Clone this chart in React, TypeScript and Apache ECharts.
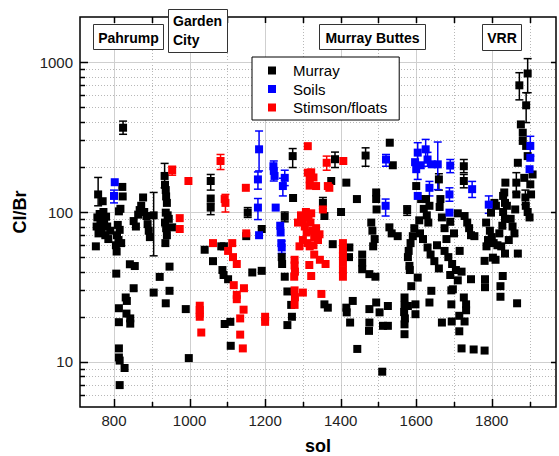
import React, { useEffect, useRef } from 'react';
import * as echarts from 'echarts';

const X_MIN = 710;
const X_MAX = 1970;
const Y_MIN = 5;
const Y_MAX = 2000;

const xMajorTicks = [800, 1000, 1200, 1400, 1600, 1800];
const xMinorTicks = [900, 1100, 1300, 1500, 1700, 1900];
const yMajorTicks = [10, 100, 1000];
const yMinorTicks = [6, 7, 8, 9, 20, 30, 40, 50, 60, 70, 80, 90, 200, 300, 400, 500, 600, 700, 800, 900];

const seriesNames = ['Murray', 'Soils', 'Stimson/floats'];

// [sol, Cl/Br]
const murray = [
  [752, 59], [754, 80], [756, 92], [758, 131], [759, 72], [762, 97], [764, 85], [767, 76], [770, 118], [772, 100],
  [774, 88], [777, 70], [779, 93], [782, 80], [785, 66], [790, 75],
  [805, 60], [807, 54.5], [808, 70], [810, 82], [812, 65], [813, 101], [815, 76], [817, 105], [819, 62], [822, 147],
  [823, 127], [824, 365], [806, 38.8], [813, 22.8], [813, 18.4], [813, 12.3], [813, 10.7], [815, 10.2], [828, 9.1],
  [815, 7.0], [831, 26.9], [834, 25.5], [833, 21], [843, 19.5], [843, 18], [842, 44.8], [855, 43.6], [852, 31],
  [852, 87], [858, 80], [864, 96], [868, 103], [872, 110], [877, 125], [880, 100], [886, 94], [889, 83], [892, 75],
  [895, 68], [905, 95], [905, 29], [921, 36.9], [934, 174], [935, 152], [937, 140], [938, 127], [940, 115], [937, 99],
  [942, 95], [945, 90], [935, 85], [938, 78], [940, 70], [936, 62], [947, 43.2], [947, 29.8], [937, 24.6], [954, 79],
  [990, 22.5], [998, 10.6],
  [1040, 56], [1056, 161], [1056, 123], [1056, 107], [1062, 47], [1084, 59], [1087, 41], [1090, 38], [1091, 59],
  [1102, 35.6], [1093, 17.9], [1108, 18.5], [1109, 12.8], [1154, 99], [1150, 69], [1166, 39.5], [1191, 40.5], [1191, 77],
  [1244, 50], [1245, 45], [1252, 93], [1252, 37], [1259, 29.5], [1269, 24], [1271, 20], [1259, 17.6], [1273, 236], [1274, 124],
  [1353, 115], [1357, 94], [1357, 24.2], [1366, 23], [1375, 161], [1379, 61], [1385, 225], [1401, 100], [1415, 157],
  [1422, 50], [1423, 58], [1432, 25.5], [1415, 23], [1416, 21.4], [1425, 18.3], [1444, 12.2], [1443, 122], [1457, 52],
  [1457, 46], [1457, 41.5], [1466, 238], [1476, 38.5], [1492, 37], [1486, 59], [1481, 85], [1484, 75], [1490, 66],
  [1494, 135], [1494, 122], [1495, 104], [1476, 22.5], [1494, 24.9], [1503, 21.4], [1525, 23.6], [1476, 18.3],
  [1475, 16.1], [1512, 17.4], [1525, 17.4], [1510, 8.6], [1530, 290], [1538, 205], [1529, 79], [1535, 72], [1551, 69],
  [1576, 103], [1578, 50], [1580, 55], [1582, 43.7], [1583, 41], [1587, 32], [1569, 26.9], [1569, 24], [1568, 21.5],
  [1570, 19.5], [1569, 17.8], [1569, 15.3], [1578, 23.6], [1598, 24.2], [1598, 20.8], [1604, 36.5], [1600, 149],
  [1591, 69], [1585, 62], [1595, 78], [1608, 88], [1613, 122], [1620, 105], [1626, 122], [1628, 95], [1632, 85],
  [1635, 110], [1610, 72], [1618, 66],
  [1660, 165], [1664, 122], [1662, 108], [1668, 92], [1675, 78], [1680, 66], [1690, 86], [1700, 72], [1710, 98],
  [1726, 202], [1726, 161], [1728, 94], [1735, 85], [1740, 78], [1745, 70], [1754, 69], [1640, 29.8], [1635, 24.9],
  [1693, 30], [1697, 30.5], [1693, 24.2], [1726, 26.9], [1732, 24.2], [1732, 22.1], [1714, 20.3], [1668, 18.3],
  [1694, 18.6], [1728, 18.6], [1714, 16], [1720, 12.3], [1752, 12.1], [1781, 11.9], [1745, 35.6], [1630, 58],
  [1638, 52], [1648, 47], [1655, 60], [1675, 55], [1685, 50], [1695, 45], [1705, 41], [1715, 55], [1720, 40],
  [1660, 42], [1690, 38], [1710, 35],
  [1782, 35.6], [1782, 31.5], [1785, 85], [1798, 99], [1807, 115], [1811, 110], [1836, 157], [1833, 135], [1830, 128],
  [1835, 115], [1830, 100], [1835, 90], [1828, 81], [1795, 75], [1800, 68], [1805, 62], [1815, 60], [1790, 65],
  [1781, 47.2], [1803, 49.6], [1810, 48], [1835, 52.8], [1869, 52.8], [1786, 59], [1825, 59], [1823, 32], [1823, 27.2],
  [1829, 37.4], [1867, 24.6], [1865, 157], [1869, 213], [1865, 131], [1873, 700], [1895, 840], [1891, 515], [1877, 384],
  [1882, 338], [1882, 298], [1891, 276], [1895, 236], [1886, 169], [1908, 178], [1902, 153], [1904, 131], [1889, 125],
  [1890, 110], [1895, 100], [1900, 92], [1850, 90], [1855, 80], [1860, 72], [1862, 104], [1845, 65], [1820, 72], [1840, 110],
];

// [sol, low, high]
const murrayErrors = [
  [758, 110, 170], [824, 330, 404], [905, 51, 135], [934, 145, 211], [1056, 140, 178], [1056, 96, 114],
  [1154, 92, 107], [1252, 86, 100], [1273, 198, 265], [1353, 105, 125], [1385, 198, 251], [1466, 202, 268],
  [1576, 95, 110], [1660, 140, 180], [1726, 183, 224], [1726, 145, 178], [1865, 135, 183], [1873, 560, 850],
  [1895, 625, 1055], [1891, 395, 625], [1889, 112, 140],
];

const soils = [
  [802, 158], [800, 128], [1184, 262], [1181, 165], [1181, 107], [1184, 70], [1222, 202], [1223, 188], [1225, 174],
  [1228, 107], [1252, 169], [1247, 149], [1240, 81], [1241, 73], [1243, 62], [1244, 58], [1520, 224], [1519, 110],
  [1604, 249], [1625, 262], [1630, 224], [1600, 193], [1597, 215], [1612, 205], [1604, 128], [1641, 208], [1657, 208],
  [1635, 145], [1690, 204], [1688, 131], [1688, 99], [1748, 142], [1792, 112], [1902, 276], [1902, 230], [1900, 193],
];

const soilsErrors = [
  [800, 115, 140], [1184, 188, 347], [1181, 142, 185], [1181, 89, 123], [1223, 161, 219], [1252, 150, 190],
  [1247, 128, 168], [1244, 53, 64], [1520, 202, 242], [1519, 94, 122], [1604, 165, 290], [1625, 213, 305],
  [1630, 202, 250], [1657, 141, 293], [1635, 128, 160], [1690, 183, 224], [1688, 118, 145], [1748, 125, 160],
  [1792, 98, 128], [1902, 236, 320],
];

const stimson = [
  [954, 190], [997, 161], [974, 91], [974, 77], [1082, 219], [1095, 115], [1093, 122], [1149, 145], [1062, 62],
  [1113, 62], [1150, 72], [1102, 55], [1115, 50], [1125, 45], [1117, 32.5], [1144, 31], [1125, 28], [1125, 26.2],
  [1027, 23.7], [1027, 22.2], [1027, 21], [1027, 20], [1143, 22.3], [1134, 19.5], [1200, 20], [1200, 18.5],
  [1031, 15.7], [1134, 15.2], [1141, 12.3],
  [1287, 85], [1313, 275], [1313, 183], [1318, 165], [1318, 150], [1295, 95], [1300, 88], [1305, 80], [1310, 73],
  [1315, 92], [1320, 85], [1325, 75], [1330, 68], [1335, 78], [1340, 65], [1300, 65], [1312, 62], [1322, 98],
  [1308, 100], [1328, 60], [1291, 59], [1318, 59], [1278, 48], [1278, 44], [1279, 40], [1277, 37], [1278, 30],
  [1279, 27], [1278, 24], [1300, 29], [1317, 44.3], [1322, 37.4], [1330, 52], [1345, 48], [1360, 45], [1349, 28.4],
  [1363, 213], [1366, 149], [1370, 145], [1407, 219], [1322, 184], [1328, 170], [1335, 149], [1353, 104], [1344, 71],
  [1406, 62], [1406, 56], [1406, 51], [1406, 46], [1406, 41], [1406, 37],
];

const stimsonErrors = [
  [954, 176, 202], [1082, 192, 242], [1095, 100, 131], [1363, 190, 236],
];

const annotations = [
  { lines: ['Pahrump'], box: [93.5, 24.5, 70, 25] },
  { lines: ['Garden', 'City'], box: [168.5, 9.5, 59, 43] },
  { lines: ['Murray Buttes'], box: [319.5, 24.5, 106, 25] },
  { lines: ['VRR'], box: [482.5, 24.5, 39, 26] },
];

const FONT = '"Liberation Sans", Arial, Helvetica, sans-serif';

function errorSeries(name: string, data: number[][], color: string) {
  return {
    type: 'custom',
    name,
    data,
    z: 3,
    silent: true,
    encode: { x: 0, y: [1, 2] },
    renderItem: (params: any, api: any) => {
      const x = api.value(0);
      const pLo = api.coord([x, api.value(1)]);
      const pHi = api.coord([x, api.value(2)]);
      const hw = 4;
      const st = { stroke: color, lineWidth: 1.5 };
      return {
        type: 'group',
        children: [
          { type: 'line', shape: { x1: pLo[0], y1: pLo[1], x2: pHi[0], y2: pHi[1] }, style: st },
          { type: 'line', shape: { x1: pLo[0] - hw, y1: pLo[1], x2: pLo[0] + hw, y2: pLo[1] }, style: st },
          { type: 'line', shape: { x1: pHi[0] - hw, y1: pHi[1], x2: pHi[0] + hw, y2: pHi[1] }, style: st },
        ],
      };
    },
  };
}

const gridData = [
  ...xMajorTicks.map((v) => [v, Y_MIN, 0]),
  ...xMinorTicks.map((v) => [v, Y_MIN, 1]),
  ...yMajorTicks.map((v) => [X_MIN, v, 2]),
  ...yMinorTicks.map((v) => [X_MIN, v, 3]),
];

function scatterSeries(name: string, data: number[][], color: string) {
  return {
    type: 'scatter',
    name,
    data,
    symbol: 'rect',
    symbolSize: 8,
    itemStyle: { color, opacity: 1 },
    emphasis: { disabled: true },
    z: 4,
  };
}

function buildOption() {
  const graphics: any[] = [];
  annotations.forEach((a) => {
    const [x, y, w, h] = a.box;
    graphics.push({
      type: 'rect',
      shape: { x, y, width: w, height: h },
      style: { fill: '#ffffff', stroke: '#333333', lineWidth: 1 },
      z: 100,
    });
    if (a.lines.length === 1) {
      graphics.push({
        type: 'text',
        x: x + w / 2,
        y: y + h / 2 + 0.5,
        z: 101,
        style: {
          text: a.lines[0],
          font: `bold 14px ${FONT}`,
          fill: '#000',
          align: 'center',
          verticalAlign: 'middle',
          textAlign: 'center',
          textVerticalAlign: 'middle',
        },
      });
    } else {
      a.lines.forEach((line, i) => {
        graphics.push({
          type: 'text',
          x: x + 4.5,
          y: y + 11.5 + i * 19,
          z: 101,
          style: {
            text: line,
            font: `bold 14px ${FONT}`,
            fill: '#000',
            align: 'left',
            verticalAlign: 'middle',
            textAlign: 'left',
            textVerticalAlign: 'middle',
          },
        });
      });
    }
  });

  return {
    animation: false,
    backgroundColor: '#ffffff',
    textStyle: { fontFamily: FONT },
    grid: {
      left: 80,
      top: 17,
      right: 3,
      bottom: 49,
      containLabel: false,
      outerBoundsMode: 'none',
      show: true,
      borderColor: '#000',
      borderWidth: 1.5,
      backgroundColor: 'transparent',
    },
    legend: {
      left: 252,
      top: 57,
      orient: 'vertical',
      itemWidth: 8,
      itemHeight: 8,
      itemGap: 3.5,
      padding: [6, 12, 5, 16],
      borderColor: '#000',
      borderWidth: 1,
      borderRadius: 0,
      backgroundColor: '#ffffff',
      z: 100,
      textStyle: { fontSize: 15, color: '#000', fontFamily: FONT, padding: [0, 0, 0, 12] },
      data: seriesNames.map((n) => ({ name: n, icon: 'rect' })),
    },
    xAxis: {
      type: 'value',
      min: X_MIN,
      max: X_MAX,
      name: 'sol',
      nameLocation: 'middle',
      nameGap: 30,
      nameTextStyle: { fontSize: 18, fontWeight: 'bold', color: '#000', fontFamily: FONT },
      axisLine: { show: false },
      axisTick: { show: false },
      splitLine: { show: false },
      axisLabel: {
        customValues: xMajorTicks,
        margin: 6,
        fontSize: 15,
        color: '#222',
        fontFamily: FONT,
        formatter: (v: number) => String(Math.round(v)),
      },
    },
    yAxis: {
      type: 'log',
      logBase: 10,
      min: Y_MIN,
      max: Y_MAX,
      name: 'Cl/Br',
      nameLocation: 'middle',
      nameGap: 49,
      nameTextStyle: { fontSize: 18, fontWeight: 'bold', color: '#000', fontFamily: FONT },
      axisLine: { show: false },
      axisTick: { show: false },
      splitLine: { show: false },
      axisLabel: {
        margin: 7,
        fontSize: 15,
        color: '#222',
        fontFamily: FONT,
        formatter: (v: number) => {
          const l = Math.log10(v);
          return Math.abs(l - Math.round(l)) < 1e-6 ? String(Math.round(v)) : '';
        },
      },
    },
    graphic: graphics,
    series: [
      {
        type: 'custom',
        name: 'grid',
        data: gridData,
        z: 1,
        silent: true,
        encode: { x: 0, y: 1 },
        renderItem: (params: any, api: any) => {
          const cs = params.coordSys;
          const kind = api.value(2);
          const p = api.coord([api.value(0), api.value(1)]);
          const solid = { stroke: '#cfcfcf', lineWidth: 1 };
          const dotted = { stroke: '#b8b8b8', lineWidth: 1, lineDash: [1, 2] };
          const tick = { stroke: '#000', lineWidth: 1.5 };
          const top = cs.y;
          const bottom = cs.y + cs.height;
          const left = cs.x;
          const right = cs.x + cs.width;
          if (kind <= 1) {
            const x = Math.round(p[0]) + 0.5;
            const major = kind === 0;
            return {
              type: 'group',
              children: [
                { type: 'line', shape: { x1: x, y1: top, x2: x, y2: bottom }, style: major ? solid : dotted },
                { type: 'line', shape: { x1: x, y1: bottom, x2: x, y2: bottom - (major ? 8 : 5) }, style: tick },
                { type: 'line', shape: { x1: x, y1: top, x2: x, y2: top + 6 }, style: tick },
              ],
            };
          }
          const y = Math.round(p[1]) + 0.5;
          const major = kind === 2;
          const children: any[] = [
            { type: 'line', shape: { x1: left, y1: y, x2: right, y2: y }, style: major ? solid : dotted },
            { type: 'line', shape: { x1: left, y1: y, x2: left + (major ? 8 : 5), y2: y }, style: tick },
          ];
          if (major) {
            children.push({ type: 'line', shape: { x1: right, y1: y, x2: right - 5, y2: y }, style: tick });
          }
          return { type: 'group', children };
        },
      },
      errorSeries('Murray errors', murrayErrors, '#000000'),
      errorSeries('Soils errors', soilsErrors, '#0000ff'),
      errorSeries('Stimson errors', stimsonErrors, '#ff0000'),
      scatterSeries('Murray', murray, '#000000'),
      scatterSeries('Soils', soils, '#0000ff'),
      scatterSeries('Stimson/floats', stimson, '#ff0000'),
    ],
  };
}

export default function App() {
  const ref = useRef<HTMLDivElement>(null);
  useEffect(() => {
    document.body.style.margin = '0';
    const chart = echarts.init(ref.current as HTMLDivElement, null, { renderer: 'svg' });
    chart.setOption(buildOption() as any);
    return () => {
      chart.dispose();
    };
  }, []);
  return <div ref={ref} style={{ width: 559, height: 456, position: 'absolute', left: 0, top: 0 }} />;
}
